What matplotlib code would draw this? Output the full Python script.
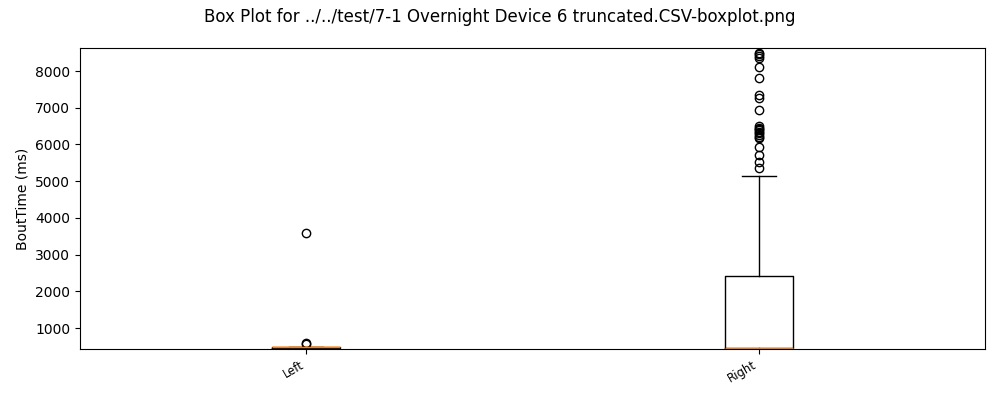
import matplotlib
matplotlib.use("Agg")
import matplotlib.pyplot as plt

# box statistics (ms)
labels = ["Left", "Right"]
medians = [470, 465]
q1s = [455, 450]
q3s = [495, 2416]
whis_lo = [430, 100]
whis_hi = [495, 5140]
fliers_left = [3590, 600, 565]
fliers_right = [8490, 8450, 8410, 8355, 8110, 7810, 7347, 7265, 6938,
                6502, 6460, 6420, 6380, 6339, 6300, 6257, 6215, 6176,
                5930, 5713, 5522, 5358]
ylims = [428, 8627]

stats = []
for i, lab in enumerate(labels):
    stats.append({
        "label": lab,
        "med": medians[i],
        "q1": q1s[i],
        "q3": q3s[i],
        "whislo": whis_lo[i],
        "whishi": whis_hi[i],
        "fliers": [fliers_left, fliers_right][i],
    })

fig, ax = plt.subplots(figsize=(10, 4), dpi=100)
ax.bxp(stats, positions=[1, 2], widths=0.15)
ax.set_ylim(ylims)
ax.set_xlim(0.5, 2.5)
ax.set_ylabel("BoutTime (ms)")
plt.setp(ax.get_xticklabels(), rotation=30, ha="right", fontsize="small")
fig.suptitle("Box Plot for ../../test/7-1 Overnight Device 6 truncated.CSV-boxplot.png")
fig.subplots_adjust(left=0.08, right=0.985, top=0.88, bottom=0.1275)
fig.savefig("out.png")
